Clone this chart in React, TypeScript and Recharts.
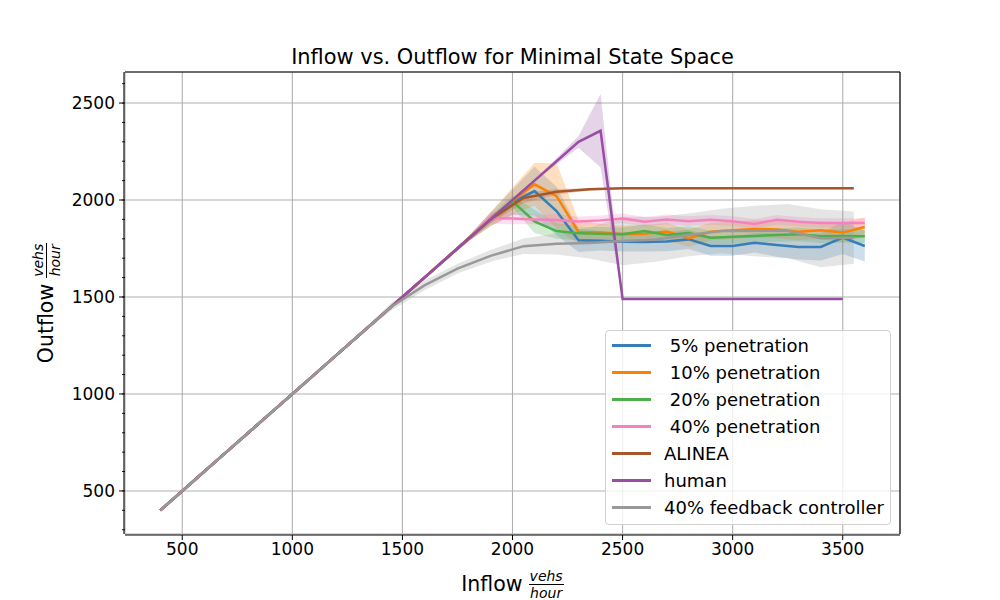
import React from 'react';
import { ComposedChart, Line, Area, XAxis, YAxis, CartesianGrid } from 'recharts';

// inflow sample points (veh/hour)
const inflow100 = [400, 500, 600, 700, 800, 900, 1000, 1100, 1200, 1300, 1400, 1500, 1600, 1700, 1800, 1900,
  2000, 2100, 2200, 2300, 2400, 2500, 2600, 2700, 2800, 2900, 3000, 3100, 3200, 3300, 3400, 3500, 3600];
const inflowHuman = [400, 500, 600, 700, 800, 900, 1000, 1100, 1200, 1300, 1400, 1500, 1600, 1700, 1800, 1900,
  2000, 2100, 2200, 2300, 2400, 2500, 2600, 2700, 2800, 2900, 3000, 3100, 3200, 3300, 3400, 3500];
const inflow150 = [400, 550, 700, 850, 1000, 1150, 1300, 1450, 1600, 1750, 1900, 2050, 2200, 2350, 2500,
  2650, 2800, 2950, 3100, 3250, 3400, 3550];

// outflow means and spreads
const out5 = [400, 500, 600, 700, 800, 900, 1000, 1100, 1200, 1300, 1400, 1500, 1600, 1700, 1800, 1900,
  1988, 2046, 1943, 1792, 1790, 1785, 1784, 1786, 1797, 1763, 1763, 1780, 1768, 1758, 1758, 1806, 1763];
const spread5 = [5, 5, 5, 5, 5, 5, 5, 5, 5, 5, 5, 5, 6, 8, 12, 35,
  65, 125, 125, 60, 50, 50, 50, 50, 50, 50, 50, 50, 60, 65, 70, 85, 80];

const out10 = [400, 500, 600, 700, 800, 900, 1000, 1100, 1200, 1300, 1400, 1500, 1600, 1700, 1800, 1900,
  1995, 2081, 2020, 1835, 1832, 1823, 1826, 1837, 1803, 1837, 1844, 1851, 1848, 1837, 1844, 1832, 1861];
const spread10 = [5, 5, 5, 5, 5, 5, 5, 5, 5, 5, 5, 5, 6, 8, 15, 35,
  70, 110, 170, 60, 45, 45, 45, 45, 45, 45, 45, 45, 45, 45, 45, 50, 50];

const out20 = [400, 500, 600, 700, 800, 900, 1000, 1100, 1200, 1300, 1400, 1500, 1600, 1700, 1800, 1900,
  1993, 1890, 1840, 1828, 1826, 1823, 1840, 1820, 1830, 1806, 1810, 1815, 1820, 1823, 1813, 1815, 1813];
const spread20 = [5, 5, 5, 5, 5, 5, 5, 5, 5, 5, 5, 5, 6, 8, 12, 20,
  30, 60, 40, 35, 35, 35, 35, 35, 35, 35, 35, 35, 35, 35, 35, 35, 35];

const out40 = [400, 500, 600, 700, 800, 900, 1000, 1100, 1200, 1300, 1400, 1500, 1600, 1700, 1800, 1907,
  1905, 1900, 1897, 1889, 1895, 1905, 1888, 1900, 1891, 1898, 1891, 1877, 1898, 1888, 1881, 1881, 1881];
const spread40 = [5, 5, 5, 5, 5, 5, 5, 5, 5, 5, 5, 5, 6, 8, 10, 30,
  30, 25, 30, 25, 25, 25, 25, 25, 25, 25, 25, 25, 25, 25, 25, 25, 25];

const outAlinea = [400, 550, 700, 850, 1000, 1150, 1300, 1450, 1600, 1750, 1900, 2010, 2042, 2055, 2060,
  2060, 2060, 2060, 2060, 2060, 2060, 2060];
const spreadAlinea = [4, 4, 4, 4, 4, 4, 4, 4, 5, 8, 20, 25, 15, 6, 5, 5, 5, 5, 5, 5, 5, 5];

const outHuman = [400, 500, 600, 700, 800, 900, 1000, 1100, 1200, 1300, 1400, 1500, 1600, 1700, 1800, 1900,
  2000, 2100, 2200, 2300, 2357, 1490, 1490, 1490, 1490, 1490, 1490, 1490, 1490, 1490, 1490, 1490];
const spreadHuman = [3, 3, 3, 3, 3, 3, 3, 3, 3, 3, 3, 3, 3, 3, 3, 3,
  3, 5, 15, 30, 190, 4, 4, 4, 4, 4, 4, 4, 4, 4, 4, 4];

const outFeedback = [400, 550, 700, 850, 1000, 1150, 1300, 1450, 1560, 1646, 1712, 1762, 1774, 1778, 1789,
  1797, 1820, 1840, 1840, 1840, 1803, 1806];
const spreadFeedback = [8, 8, 8, 8, 8, 8, 8, 20, 25, 25, 30, 40, 55, 80, 125, 115, 110, 115, 130, 140, 150, 135];

const xTicks = [500, 1000, 1500, 2000, 2500, 3000, 3500];
const yTicks = [500, 1000, 1500, 2000, 2500];
const xMinorTicks = [300, 400, 500, 600, 700, 800, 900, 1000, 1100, 1200, 1300, 1400, 1500, 1600, 1700, 1800,
  1900, 2000, 2100, 2200, 2300, 2400, 2500, 2600, 2700, 2800, 2900, 3000, 3100, 3200, 3300, 3400, 3500, 3600, 3700];
const yMinorTicks = [300, 400, 500, 600, 700, 800, 900, 1000, 1100, 1200, 1300, 1400, 1500, 1600, 1700, 1800,
  1900, 2000, 2100, 2200, 2300, 2400, 2500, 2600];

const X_DOMAIN = [240, 3760];
const Y_DOMAIN = [278, 2660];
const FONT = '"DejaVu Sans", sans-serif';

const series = [
  { key: 'p5', label: ' 5% penetration', color: '#377eb8', x: inflow100, y: out5, s: spread5 },
  { key: 'p10', label: ' 10% penetration', color: '#ff7f00', x: inflow100, y: out10, s: spread10 },
  { key: 'p20', label: ' 20% penetration', color: '#4daf4a', x: inflow100, y: out20, s: spread20 },
  { key: 'p40', label: ' 40% penetration', color: '#f781bf', x: inflow100, y: out40, s: spread40 },
  { key: 'alinea', label: 'ALINEA', color: '#a65628', x: inflow150, y: outAlinea, s: spreadAlinea },
  { key: 'human', label: 'human', color: '#984ea3', x: inflowHuman, y: outHuman, s: spreadHuman },
  { key: 'fb', label: '40% feedback controller', color: '#999999', x: inflow150, y: outFeedback, s: spreadFeedback },
].map(d => ({
  ...d,
  rows: d.x.map((x, i) => ({ x, y: d.y[i], band: [d.y[i] - d.s[i], d.y[i] + d.s[i]] })),
}));

// minor tick marks: the axis gives the anchor point, we draw a short stub outward
const MinorTickX = (p: any) => <line x1={p.x} x2={p.x} y1={p.y} y2={p.y + 3} stroke="#000" strokeWidth={0.9} />;
const MinorTickY = (p: any) => <line x1={p.x - 3} x2={p.x} y1={p.y} y2={p.y} stroke="#000" strokeWidth={0.9} />;

function Fraction() {
  return (
    <span style={{ display: 'inline-flex', flexDirection: 'column', alignItems: 'center', fontStyle: 'italic', fontSize: 14, lineHeight: '14px', marginLeft: 6 }}>
      <span style={{ borderBottom: '1px solid #000', padding: '0 1px 1px' }}>vehs</span>
      <span style={{ paddingTop: 1 }}>hour</span>
    </span>
  );
}

export default function App() {
  const tickStyle = { fontSize: 17, fill: '#000', fontFamily: FONT };
  const spine = { stroke: '#000', strokeWidth: 1.1 };
  // axis ids: "aminor" sorts before "main", so the 1px minor-tick axes sit right against the plot
  return (
    <div style={{ position: 'absolute', left: 0, top: 0, width: 1000, height: 600, background: '#fff', fontFamily: FONT, color: '#000' }}>
      <ComposedChart width={1000} height={600} margin={{ top: 71, right: 99, bottom: 35, left: 64 }}>
        <CartesianGrid xAxisId="main" yAxisId="main" stroke="#b0b0b0" strokeWidth={1.1} />
        <XAxis xAxisId="aminor" type="number" domain={X_DOMAIN} ticks={xMinorTicks} tick={MinorTickX} interval={0}
          tickSize={0} tickMargin={0} height={1} axisLine={false} tickLine={false} allowDataOverflow />
        <XAxis xAxisId="main" dataKey="x" type="number" domain={X_DOMAIN} ticks={xTicks} tickSize={5} tickMargin={3}
          height={30} tick={tickStyle} axisLine={spine} tickLine={{ stroke: '#000' }} allowDataOverflow />
        <XAxis xAxisId="top" orientation="top" type="number" domain={X_DOMAIN} tick={false} tickLine={false}
          height={1} axisLine={spine} allowDataOverflow />
        <YAxis yAxisId="aminor" type="number" domain={Y_DOMAIN} ticks={yMinorTicks} tick={MinorTickY} interval={0}
          tickSize={0} tickMargin={0} width={1} axisLine={false} tickLine={false} allowDataOverflow />
        <YAxis yAxisId="main" type="number" domain={Y_DOMAIN} ticks={yTicks} tickSize={5} tickMargin={4} width={60}
          tick={tickStyle} axisLine={spine} tickLine={{ stroke: '#000' }} allowDataOverflow />
        <YAxis yAxisId="right" orientation="right" type="number" domain={Y_DOMAIN} tick={false} tickLine={false}
          width={1} axisLine={spine} allowDataOverflow />
        {series.map(d => (
          <Area key={d.key + '-band'} xAxisId="main" yAxisId="main" data={d.rows} dataKey="band" type="linear"
            stroke="none" fill={d.color} fillOpacity={0.25} dot={false} activeDot={false} isAnimationActive={false} />
        ))}
        {series.map(d => (
          <Line key={d.key + '-line'} xAxisId="main" yAxisId="main" data={d.rows} dataKey="y" type="linear"
            stroke={d.color} strokeWidth={2.5} dot={false} activeDot={false} isAnimationActive={false} />
        ))}
      </ComposedChart>

      <div style={{ position: 'absolute', left: 125, width: 775, top: 45, textAlign: 'center', fontSize: 20.9, lineHeight: '24px' }}>
        Inflow vs. Outflow for Minimal State Space
      </div>

      <div style={{ position: 'absolute', left: 125, width: 775, top: 568, height: 32, display: 'flex', justifyContent: 'center', alignItems: 'center' }}>
        <span style={{ fontSize: 20.5 }}>Inflow</span>
        <Fraction />
      </div>

      <div style={{ position: 'absolute', left: 46 - 150, top: 303 - 16, width: 300, height: 32, display: 'flex', justifyContent: 'center', alignItems: 'center', transform: 'rotate(-90deg)' }}>
        <span style={{ fontSize: 20.5 }}>Outflow</span>
        <Fraction />
      </div>

      <div style={{ position: 'absolute', left: 605, top: 330, width: 286, height: 195, border: '1px solid #d0d0d0', borderRadius: 4, background: 'rgba(255,255,255,0.8)', boxSizing: 'border-box', paddingTop: 1 }}>
        {series.map(d => (
          <div key={d.key} style={{ display: 'flex', alignItems: 'center', height: 27 }}>
            <span style={{ display: 'inline-block', width: 39, height: 2.6, background: d.color, marginLeft: 6, marginRight: 13 }} />
            <span style={{ fontSize: 18, whiteSpace: 'pre', lineHeight: '20px' }}>{d.label}</span>
          </div>
        ))}
      </div>
    </div>
  );
}
